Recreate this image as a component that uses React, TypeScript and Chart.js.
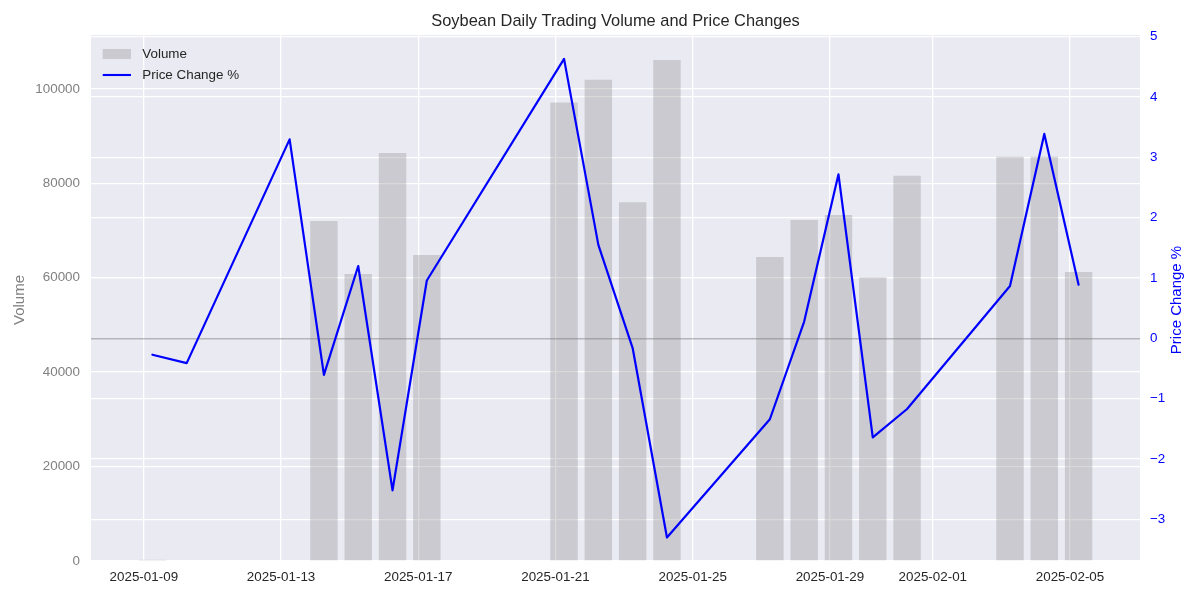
import React, { useEffect, useRef } from 'react';
import { Chart, registerables } from 'chart.js';

Chart.register(...registerables);

// ---------- data ----------
const DATES = [
  '2025-01-09', '2025-01-10', '2025-01-13', '2025-01-14', '2025-01-15', '2025-01-16', '2025-01-17',
  '2025-01-21', '2025-01-22', '2025-01-23', '2025-01-24', '2025-01-27', '2025-01-28', '2025-01-29',
  '2025-01-30', '2025-01-31', '2025-02-03', '2025-02-04', '2025-02-05',
];
const VOLUME: (number | null)[] = [
  250, null, null, 72000, 60800, 86400, 64800,
  97100, 101900, 76000, 106100, 64400, 72200, 73300,
  60100, 81600, 85600, 85600, 61200,
];
const PRICE_CHANGE = [
  -0.27, -0.41, 3.3, -0.605, 1.2, -2.52, 0.96,
  4.635, 1.55, -0.16, -3.3, -1.34, 0.28, 2.72,
  -1.64, -1.17, 0.87, 3.39, 0.89,
];
const X_TICK_DATES = [
  '2025-01-09', '2025-01-13', '2025-01-17', '2025-01-21',
  '2025-01-25', '2025-01-29', '2025-02-01', '2025-02-05',
];
const VOLUME_TICKS = [0, 20000, 40000, 60000, 80000, 100000];
const PRICE_TICKS = [-3, -2, -1, 0, 1, 2, 3, 4, 5];

const TITLE = 'Soybean Daily Trading Volume and Price Changes';
const VOLUME_LABEL = 'Volume';
const PRICE_LABEL = 'Price Change %';

// ---------- helpers ----------
const DAY_MS = 86400000;
const ORIGIN = Date.parse('2025-01-09T00:00:00Z');
const SESSION_OFFSET = 0.25; // timestamps fall at 06:00
const dayOf = (d: string) => (Date.parse(d + 'T00:00:00Z') - ORIGIN) / DAY_MS;
const fmtDay = (v: number) => new Date(ORIGIN + Math.round(v) * DAY_MS).toISOString().slice(0, 10);

const FONT = "'Liberation Sans', Arial, Helvetica, sans-serif";
const TEXT = '#262626';
const BAR_COLOR = 'rgba(128,128,128,0.3)';
const LINE_COLOR = '#0000ff';
const BG = '#EAEAF2';
const TICK_SIZE = 13.4;
const LABEL_SIZE = 15;

const decorPlugin = {
  id: 'decor',
  beforeDraw(chart: any) {
    const { ctx, chartArea: a } = chart;
    ctx.save();
    ctx.fillStyle = '#ffffff';
    ctx.fillRect(0, 0, chart.width, chart.height);
    ctx.fillStyle = BG;
    ctx.fillRect(a.left, a.top, a.right - a.left, a.bottom - a.top);
    ctx.restore();
  },
  afterDraw(chart: any) {
    const { ctx, chartArea: a } = chart;
    const midY = (a.top + a.bottom) / 2 + 2;
    ctx.save();
    // title
    ctx.fillStyle = TEXT;
    ctx.font = `16.4px ${FONT}`;
    ctx.textAlign = 'center';
    ctx.textBaseline = 'middle';
    ctx.fillText(TITLE, (a.left + a.right) / 2, 21.5);

    // axis titles
    ctx.font = `${LABEL_SIZE}px ${FONT}`;
    ctx.save();
    ctx.translate(20, midY);
    ctx.rotate(-Math.PI / 2);
    ctx.fillStyle = 'gray';
    ctx.fillText(VOLUME_LABEL, 0, 0);
    ctx.restore();
    ctx.save();
    ctx.translate(1177, midY);
    ctx.rotate(-Math.PI / 2);
    ctx.fillStyle = LINE_COLOR;
    ctx.fillText(PRICE_LABEL, 0, 0);
    ctx.restore();

    // legend
    const lx = a.left + 11.7;
    const hw = 28.3;
    ctx.fillStyle = BAR_COLOR;
    ctx.fillRect(lx, 49, hw, 10);
    ctx.strokeStyle = LINE_COLOR;
    ctx.lineWidth = 2.1;
    ctx.beginPath();
    ctx.moveTo(lx, 75);
    ctx.lineTo(lx + hw, 75);
    ctx.stroke();
    ctx.fillStyle = TEXT;
    ctx.textAlign = 'left';
    ctx.font = `${TICK_SIZE}px ${FONT}`;
    ctx.fillText(VOLUME_LABEL, lx + 39.6, 54.5);
    ctx.fillText(PRICE_LABEL, lx + 39.6, 75);
    ctx.restore();
  },
};

export default function App() {
  const ref = useRef<HTMLCanvasElement | null>(null);

  useEffect(() => {
    if (!ref.current) return;
    const xs = DATES.map((d) => dayOf(d) + SESSION_OFFSET);
    const barData = xs.map((x, i) => ({ x, y: VOLUME[i] }));
    const lineData = xs.map((x, i) => ({ x, y: PRICE_CHANGE[i] }));
    const xTicks = X_TICK_DATES.map(dayOf);

    const chart = new Chart(ref.current, {
      type: 'bar',
      data: {
        datasets: [
          {
            type: 'line',
            label: PRICE_LABEL,
            data: lineData as any,
            yAxisID: 'y1',
            borderColor: LINE_COLOR,
            backgroundColor: LINE_COLOR,
            borderWidth: 2.2,
            pointRadius: 0,
            borderJoinStyle: 'round',
            borderCapStyle: 'round',
            tension: 0,
            order: 1,
          } as any,
          {
            type: 'bar',
            label: VOLUME_LABEL,
            data: barData as any,
            yAxisID: 'y',
            backgroundColor: BAR_COLOR,
            borderWidth: 0,
            barPercentage: 0.8,
            categoryPercentage: 1.0,
            order: 2,
          } as any,
        ],
      },
      options: {
        responsive: false,
        animation: false,
        devicePixelRatio: 1,
        layout: { padding: { top: 35, left: 0, right: 0, bottom: 0 } },
        plugins: {
          legend: { display: false },
          title: { display: false },
          tooltip: { enabled: false },
        },
        scales: {
          x: {
            type: 'linear',
            min: -1.54,
            max: 29.04,
            offset: false,
            grid: { color: '#ffffff', lineWidth: 1.3, drawTicks: false, offset: false },
            border: { display: false },
            afterBuildTicks: (s: any) => { s.ticks = xTicks.map((v) => ({ value: v })); },
            afterFit: (s: any) => { s.height = 39; },
            ticks: {
              autoSkip: false,
              maxRotation: 0,
              padding: 8,
              color: TEXT,
              font: { family: FONT, size: TICK_SIZE },
              callback: (v: any) => fmtDay(Number(v)),
            },
          },
          y: {
            type: 'linear',
            position: 'left',
            min: 0,
            max: 111400,
            grid: { color: '#ffffff', lineWidth: 1.3, drawTicks: false },
            border: { display: false },
            afterBuildTicks: (s: any) => { s.ticks = VOLUME_TICKS.map((v) => ({ value: v })); },
            afterFit: (s: any) => { s.width = 91; },
            ticks: {
              padding: 11,
              color: 'gray',
              font: { family: FONT, size: TICK_SIZE },
              callback: (v: any) => String(v),
            },
          },
          y1: {
            type: 'linear',
            position: 'right',
            min: -3.69,
            max: 5.03,
            grid: {
              drawTicks: false,
              color: (c: any) => (c.tick && c.tick.value === 0 ? 'rgba(128,128,128,0.5)' : '#ffffff'),
              lineWidth: (c: any) => (c.tick && c.tick.value === 0 ? 1.6 : 1.3),
            },
            border: { display: false },
            afterBuildTicks: (s: any) => { s.ticks = PRICE_TICKS.map((v) => ({ value: v })); },
            afterFit: (s: any) => { s.width = 60; },
            ticks: {
              padding: 10,
              color: LINE_COLOR,
              font: { family: FONT, size: TICK_SIZE },
              callback: (v: any) => (Number(v) < 0 ? '\u2212' + Math.abs(Number(v)) : String(v)),
            },
          },
        },
      } as any,
      plugins: [decorPlugin],
    });
    return () => chart.destroy();
  }, []);

  return (
    <div style={{ position: 'absolute', left: 0, top: 0, width: 1200, height: 600 }}>
      <canvas ref={ref} width={1200} height={600} style={{ display: 'block' }} />
    </div>
  );
}
